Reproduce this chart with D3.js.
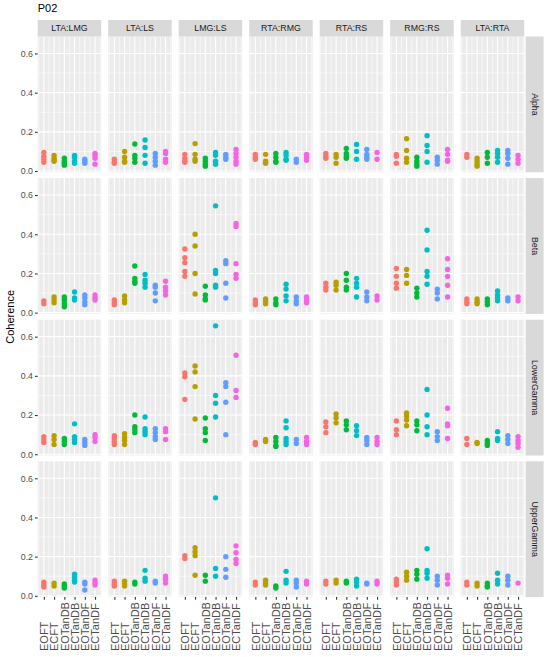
<!DOCTYPE html>
<html>
<head>
<meta charset="utf-8">
<script src="https://cdn.jsdelivr.net/npm/d3@7"></script>
<style>
  body { margin: 0; background: #fff; }
  svg { display: block; font-family: "Liberation Sans", Arial, sans-serif; }
</style>
</head>
<body>
<div id="chart"></div>
<script>
// Facet columns, facet rows, x categories
const pairs = ["LTA:LMG", "LTA:LS", "LMG:LS", "RTA:RMG", "RTA:RS", "RMG:RS", "LTA:RTA"]
const bands = ["Alpha", "Beta", "LowerGamma", "UpperGamma"]
const conditions = ["EOFT", "ECFT", "EOTanDB", "ECTanDB", "EOTanDF", "ECTanDF"]
const yTicks = [0, 0.2, 0.4, 0.6]

// Coherence values: one entry per pair, inside that one list per condition
const alpha = [
  [[0.095,0.075,0.06,0.045],[0.08,0.065,0.055,0.05],[0.065,0.05,0.04,0.03],[0.08,0.07,0.05,0.04],[0.06,0.05,0.04],[0.09,0.08,0.065,0.035]],
  [[0.06,0.045,0.04],[0.1,0.07,0.05,0.045],[0.138,0.08,0.065,0.045],[0.158,0.12,0.08,0.04],[0.09,0.07,0.05,0.03],[0.1,0.09,0.06,0.045]],
  [[0.085,0.065,0.05,0.045],[0.14,0.085,0.06,0.05],[0.065,0.05,0.035,0.025],[0.095,0.08,0.05,0.035],[0.085,0.07,0.06],[0.11,0.09,0.07,0.05,0.035]],
  [[0.085,0.07,0.06],[0.085,0.05,0.04],[0.09,0.07,0.05,0.045],[0.095,0.08,0.06,0.055],[0.06,0.045],[0.085,0.07,0.055]],
  [[0.09,0.075,0.065],[0.085,0.07,0.04],[0.115,0.09,0.075,0.065],[0.135,0.1,0.06],[0.11,0.085,0.07,0.06],[0.095,0.06]],
  [[0.085,0.075,0.04],[0.165,0.105,0.065,0.045],[0.07,0.05,0.035,0.025],[0.18,0.13,0.1,0.045],[0.07,0.055,0.035],[0.11,0.085,0.055,0.05]],
  [[0.085,0.07],[0.065,0.05,0.035,0.025],[0.095,0.07,0.04],[0.105,0.09,0.07,0.045],[0.105,0.09,0.065,0.035],[0.08,0.06,0.04]]
]
const beta = [
  [[0.06,0.045],[0.08,0.065,0.05],[0.08,0.065,0.045,0.03],[0.105,0.075,0.065],[0.09,0.075,0.055,0.04],[0.09,0.075,0.065]],
  [[0.065,0.05,0.04],[0.085,0.065,0.05],[0.238,0.175,0.16,0.15],[0.195,0.165,0.15,0.13],[0.14,0.13,0.1,0.06],[0.16,0.13,0.11,0.09]],
  [[0.325,0.28,0.255,0.21,0.185],[0.4,0.34,0.2,0.095],[0.135,0.09,0.07,0.065],[0.545,0.215,0.2,0.14,0.13],[0.265,0.25,0.15,0.075],[0.455,0.44,0.25,0.195,0.175]],
  [[0.065,0.05,0.04],[0.07,0.055,0.045],[0.07,0.05,0.04],[0.145,0.12,0.085,0.06],[0.08,0.06,0.045],[0.08,0.065,0.05]],
  [[0.15,0.13,0.115],[0.155,0.14,0.115],[0.2,0.165,0.13,0.115],[0.175,0.15,0.13,0.08],[0.105,0.08,0.06],[0.085,0.065]],
  [[0.225,0.185,0.15,0.125],[0.22,0.19,0.15],[0.125,0.1,0.08],[0.42,0.32,0.21,0.185,0.145],[0.12,0.1,0.07],[0.275,0.22,0.185,0.14,0.08]],
  [[0.07,0.055,0.045],[0.07,0.055,0.045],[0.07,0.055,0.04],[0.11,0.09,0.075,0.06],[0.075,0.06],[0.08,0.06]]
]
const lowerGamma = [
  [[0.09,0.075,0.06],[0.095,0.075,0.05],[0.08,0.065,0.05],[0.155,0.09,0.075,0.06],[0.075,0.06,0.045],[0.1,0.085,0.065]],
  [[0.095,0.08,0.065,0.05],[0.105,0.085,0.07,0.05],[0.2,0.14,0.125,0.11],[0.19,0.13,0.115,0.1],[0.13,0.11,0.09,0.075],[0.13,0.115,0.075]],
  [[0.415,0.395,0.28],[0.45,0.42,0.345,0.18],[0.185,0.13,0.11,0.07],[0.655,0.3,0.26,0.19],[0.365,0.345,0.265,0.1],[0.505,0.325,0.29]],
  [[0.06,0.05],[0.075,0.065],[0.085,0.065,0.045,0.04],[0.17,0.135,0.08,0.065,0.05],[0.075,0.055],[0.085,0.065,0.05]],
  [[0.165,0.14,0.11],[0.205,0.185,0.16],[0.17,0.15,0.125],[0.145,0.12,0.095],[0.085,0.07,0.05],[0.085,0.065,0.05]],
  [[0.17,0.125,0.1],[0.21,0.195,0.175,0.145],[0.17,0.15,0.12],[0.33,0.2,0.14,0.1],[0.115,0.09,0.07],[0.235,0.155,0.145,0.08]],
  [[0.08,0.05],[0.06,0.055],[0.07,0.055,0.045],[0.115,0.08,0.07],[0.095,0.075,0.055],[0.09,0.07,0.055,0.035]]
]
const upperGamma = [
  [[0.07,0.055,0.045],[0.065,0.05],[0.06,0.05,0.04],[0.11,0.095,0.08,0.07],[0.07,0.06,0.03],[0.08,0.065,0.055]],
  [[0.075,0.06,0.05],[0.075,0.06,0.05],[0.07,0.06],[0.13,0.09,0.075],[0.075,0.065],[0.1,0.085,0.065]],
  [[0.205,0.19],[0.245,0.225,0.205,0.105],[0.105,0.075],[0.5,0.14,0.1],[0.2,0.135,0.095],[0.255,0.22,0.185,0.165]],
  [[0.07,0.055],[0.08,0.065,0.055],[0.05,0.04],[0.125,0.08,0.065],[0.08,0.065,0.045],[0.075,0.06]],
  [[0.075,0.06],[0.08,0.065],[0.075,0.065],[0.085,0.07,0.05],[0.065,0.06],[0.075,0.06]],
  [[0.085,0.07,0.055],[0.12,0.1,0.08],[0.13,0.11,0.085],[0.24,0.13,0.115,0.09],[0.1,0.08,0.055],[0.105,0.09,0.06]],
  [[0.07,0.055],[0.065,0.05],[0.065,0.05,0.045],[0.115,0.08,0.06],[0.1,0.08,0.055],[0.065]]
]
const bandValues = [alpha, beta, lowerGamma, upperGamma]

// ggplot default hue palette for 6 levels
const colours = ["#F8766D", "#B79F00", "#00BA38", "#00BFC4", "#619CFF", "#F564E3"]

// Flatten into rows of {band, pair, cond, value}
const data = []
bands.forEach((b, bi) => pairs.forEach((p, pi) => conditions.forEach((c, ci) => {
  bandValues[bi][pi][ci].forEach(v => data.push({ band: b, pair: p, cond: c, value: v }))
})))

const width = 550, height = 657
const panelLeft = 37.7, panelW = 63.5, gapX = 7
const panelTop = 36.5, panelH = 135.8, gapY = 5.8
const stripH = 16.5, stripW = 18
const font = '"Liberation Sans", Arial, sans-serif'

const svg = d3.select("#chart").append("svg")
  .attr("width", width).attr("height", height)

// Shared scales (ggplot: fixed scales, 5% continuous / 0.6 discrete expansion)
const [lo, hi] = d3.extent(data, d => d.value)
const pad = (hi - lo) * 0.05
const x = d3.scalePoint().domain(conditions).range([0, panelW]).padding(0.6)
const y = d3.scaleLinear().domain([lo - pad, hi + pad]).range([panelH, 0])
const colour = d3.scaleOrdinal().domain(conditions).range(colours)
const step = x.step()

// Title
svg.append("text").attr("x", panelLeft).attr("y", 12)
  .style("font-size", "11px").style("fill", "#000").text("P02")

// Y axis title
svg.append("text")
  .attr("transform", `translate(13.5,${panelTop + (4 * panelH + 3 * gapY) / 2}) rotate(-90)`)
  .attr("text-anchor", "middle")
  .style("font-size", "11px").style("fill", "#000").text("Coherence")

bands.forEach((band, bi) => {
  const top = panelTop + bi * (panelH + gapY)

  pairs.forEach((pair, pi) => {
    const left = panelLeft + pi * (panelW + gapX)
    const g = svg.append("g").attr("transform", `translate(${left},${top})`)

    // Panel background
    g.append("rect").attr("width", panelW).attr("height", panelH).attr("fill", "#EBEBEB")

    // Minor grid
    const minorY = [0.1, 0.3, 0.5]
    g.selectAll(".minory").data(minorY).join("line")
      .attr("x1", 0).attr("x2", panelW)
      .attr("y1", d => y(d)).attr("y2", d => y(d))
      .attr("stroke", "#fff").attr("stroke-width", 0.55)
    g.selectAll(".minorx").data(conditions.map(c => x(c) - step / 2).concat([x(conditions[5]) + step / 2])).join("line")
      .attr("y1", 0).attr("y2", panelH)
      .attr("x1", d => d).attr("x2", d => d)
      .attr("stroke", "#fff").attr("stroke-width", 0.55)

    // Major grid
    g.selectAll(".majory").data(yTicks).join("line")
      .attr("x1", 0).attr("x2", panelW)
      .attr("y1", d => y(d)).attr("y2", d => y(d))
      .attr("stroke", "#fff").attr("stroke-width", 1.1)
    g.selectAll(".majorx").data(conditions).join("line")
      .attr("y1", 0).attr("y2", panelH)
      .attr("x1", d => x(d)).attr("x2", d => x(d))
      .attr("stroke", "#fff").attr("stroke-width", 1.1)

    // Points
    const pts = data.filter(d => d.band === band && d.pair === pair)
    g.selectAll("circle").data(pts).join("circle")
      .attr("cx", d => x(d.cond))
      .attr("cy", d => y(d.value))
      .attr("r", 2.7)
      .attr("fill", d => colour(d.cond))

    // Top strips
    if (bi === 0) {
      const s = svg.append("g").attr("transform", `translate(${left},${panelTop - stripH})`)
      s.append("rect").attr("width", panelW).attr("height", stripH).attr("fill", "#D9D9D9")
      s.append("text").attr("x", panelW / 2).attr("y", stripH / 2).attr("dy", "0.35em")
        .attr("text-anchor", "middle").style("font-size", "8.8px").style("fill", "#1A1A1A").text(pair)
    }

    // Left axis
    if (pi === 0) {
      const ax = g.append("g").call(d3.axisLeft(y).tickValues(yTicks).tickFormat(d3.format(".1f")).tickSize(2.7).tickPadding(2))
      ax.select(".domain").remove()
      ax.selectAll("line").attr("stroke", "#333333").attr("stroke-width", 1.07)
      ax.selectAll("text").style("font-size", "8.8px").style("font-family", font).style("fill", "#4D4D4D")
    }

    // Bottom axis
    if (bi === bands.length - 1) {
      const ax = g.append("g").attr("transform", `translate(0,${panelH})`)
        .call(d3.axisBottom(x).tickSize(2.7))
      ax.select(".domain").remove()
      ax.selectAll("line").attr("stroke", "#333333").attr("stroke-width", 1.07)
      ax.selectAll("text")
        .attr("transform", "rotate(-90)")
        .attr("x", -(651 - (top + panelH)))
        .attr("y", 0).attr("dy", "0.35em")
        .attr("text-anchor", "start")
        .style("font-size", "11px").style("font-family", font).style("fill", "#4D4D4D")
    }
  })

  // Right strip
  const sx = panelLeft + pairs.length * (panelW + gapX) - gapX + 1.4
  const rs = svg.append("g").attr("transform", `translate(${sx},${top})`)
  rs.append("rect").attr("width", stripW).attr("height", panelH).attr("fill", "#D9D9D9")
  rs.append("text")
    .attr("transform", `translate(${stripW / 2},${panelH / 2}) rotate(90)`)
    .attr("text-anchor", "middle").attr("dy", "0.35em")
    .style("font-size", "8.8px").style("fill", "#1A1A1A").text(band)
})
</script>
</body>
</html>
